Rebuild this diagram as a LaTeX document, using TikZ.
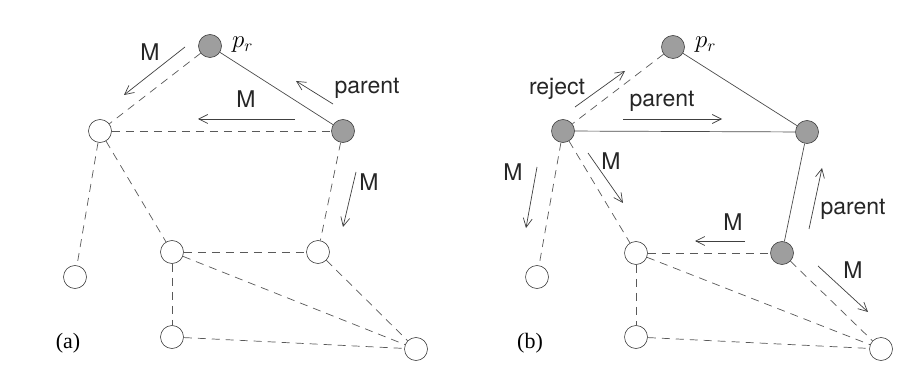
\documentclass[tikz,border=0pt]{standalone}
\usepackage{fontspec}
\setsansfont{TeX Gyre Heros}
\newfontfamily\serifrm{Liberation Serif}
\usetikzlibrary{arrows.meta}
\begin{document}
\begin{tikzpicture}[x=1pt,y=-1pt,
  vtx/.style={circle,draw=black!75,line width=0.6pt,minimum size=23pt,inner sep=0pt,fill=white},
  shaded/.style={vtx,fill=black!38},
  dashedge/.style={draw=black!65,line width=0.7pt,dash pattern=on 8pt off 6pt},
  solidedge/.style={draw=black!70,line width=0.7pt},
  msg/.style={draw=black!75,line width=0.7pt,-{Straight Barb[length=9pt,width=9pt,line width=0.7pt]}},
  lbl/.style={font=\sffamily\fontsize{23}{23}\selectfont,inner sep=0pt,text=black!85},
  plbl/.style={font=\serifrm\fontsize{22}{22}\selectfont,inner sep=0pt},
  prl/.style={font=\fontsize{24}{24}\selectfont,inner sep=0pt}]
\useasboundingbox[fill=white] (0,0) rectangle (918,366);
% ---------------- panel (a)
\node[shaded] (apr) at (210,46) {};
\node[vtx] (aA) at (100,131) {};
\node[shaded] (aB) at (343,131) {};
\node[vtx] (aC) at (75,277) {};
\node[vtx] (aD) at (172,252) {};
\node[vtx] (aE) at (318,252) {};
\node[vtx] (aF) at (172,337) {};
\node[vtx] (aG) at (416,349) {};
\node[prl,anchor=west] at (232,45) {$p_r$};
\node[plbl] at (68,343) {(a)};
\draw[dashedge] (apr) -- (aA);
\draw[solidedge] (apr) -- (aB);
\draw[dashedge] (aA) -- (aB);
\draw[dashedge] (aA) -- (aC);
\draw[dashedge] (aA) -- (aD);
\draw[dashedge] (aB) -- (aE);
\draw[dashedge] (aD) -- (aE);
\draw[dashedge] (aD) -- (aF);
\draw[dashedge] (aD) -- (aG);
\draw[dashedge] (aE) -- (aG);
\draw[dashedge] (aF) -- (aG);
\coordinate (a1s) at (185,47); \coordinate (a1e) at (124,95);
\draw[msg] (a1s) -- (a1e);
\node[lbl] at (150,52) {M};
\coordinate (a2s) at (295,119); \coordinate (a2e) at (198,119);
\draw[msg] (a2s) -- (a2e);
\node[lbl] at (246,99) {M};
\coordinate (a3s) at (333,104); \coordinate (a3e) at (296,81);
\draw[msg] (a3s) -- (a3e);
\node[lbl] at (367,88) {parent};
\coordinate (a4s) at (356,172); \coordinate (a4e) at (343,227);
\draw[msg] (a4s) -- (a4e);
\node[lbl] at (369,182) {M};
% ---------------- panel (b)
\node[shaded] (bpr) at (673,47) {};
\node[shaded] (bA) at (563,131) {};
\node[shaded] (bB) at (807,132) {};
\node[vtx] (bC) at (537,277) {};
\node[vtx] (bD) at (636,253) {};
\node[shaded] (bE) at (782,253) {};
\node[vtx] (bF) at (636,337) {};
\node[vtx] (bG) at (881,349) {};
\node[prl,anchor=west] at (695,45) {$p_r$};
\node[plbl] at (530,343) {(b)};
\draw[dashedge] (bpr) -- (bA);
\draw[solidedge] (bpr) -- (bB);
\draw[solidedge] (bA) -- (bB);
\draw[dashedge] (bA) -- (bC);
\draw[dashedge] (bA) -- (bD);
\draw[solidedge] (bB) -- (bE);
\draw[dashedge] (bD) -- (bE);
\draw[dashedge] (bD) -- (bF);
\draw[dashedge] (bD) -- (bG);
\draw[dashedge] (bE) -- (bG);
\draw[dashedge] (bF) -- (bG);
\coordinate (b1s) at (575,107); \coordinate (b1e) at (625,71);
\draw[msg] (b1s) -- (b1e);
\node[lbl] at (557,89) {reject};
\coordinate (b2s) at (623,119); \coordinate (b2e) at (722,119);
\draw[msg] (b2s) -- (b2e);
\node[lbl] at (662,101) {parent};
\coordinate (b3s) at (537,167); \coordinate (b3e) at (526,228);
\draw[msg] (b3s) -- (b3e);
\node[lbl] at (513,172) {M};
\coordinate (b4s) at (588,153); \coordinate (b4e) at (623,203);
\draw[msg] (b4s) -- (b4e);
\node[lbl] at (611,161) {M};
\coordinate (b5s) at (809,229); \coordinate (b5e) at (822,168);
\draw[msg] (b5s) -- (b5e);
\node[lbl] at (853,209) {parent};
\coordinate (b6s) at (745,241); \coordinate (b6e) at (695,241);
\draw[msg] (b6s) -- (b6e);
\node[lbl] at (733,222) {M};
\coordinate (b7s) at (818,266); \coordinate (b7e) at (868,312);
\draw[msg] (b7s) -- (b7e);
\node[lbl] at (853,270) {M};
\end{tikzpicture}
\end{document}
